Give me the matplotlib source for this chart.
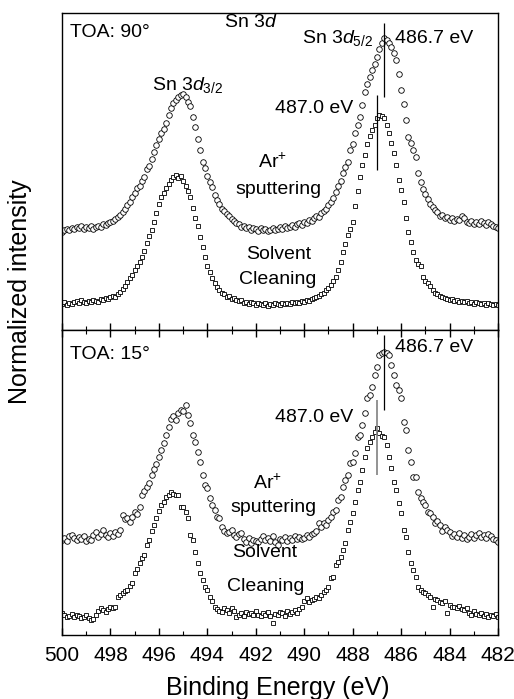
import numpy as np
import matplotlib
matplotlib.use("Agg")
import matplotlib.pyplot as plt
from matplotlib.ticker import MultipleLocator

plt.rcParams['font.family'] = 'Liberation Sans'
plt.rcParams['mathtext.fontset'] = 'custom'
plt.rcParams['mathtext.rm'] = 'Liberation Sans'
plt.rcParams['mathtext.it'] = 'Liberation Sans:italic'

# binding energy grid, 0.1 eV steps from 500 down to 482 eV
energy = np.linspace(500.0, 482.0, 181)

# TOA 90 deg, Ar+ sputtering (circles)
top_ar = [
    98, 100, 101, 100, 102, 101, 103, 102, 104, 101,
    103, 102, 104, 101, 103, 104, 103, 106, 105, 107,
    108, 109, 111, 113, 115, 118, 121, 125, 128, 133,
    137, 142, 144, 149, 153, 161, 164, 171, 178, 185,
    191, 197, 201, 207, 215, 222, 227, 230, 233, 235,
    236, 233, 228, 224, 213, 203, 191, 180, 168, 162,
    154, 148, 143, 135, 130, 126, 121, 119, 116, 114,
    111, 109, 107, 106, 103, 104, 102, 103, 100, 102,
    101, 99, 102, 100, 101, 99, 100, 102, 100, 101,
    103, 101, 104, 102, 103, 105, 103, 106, 107, 105,
    108, 107, 110, 109, 112, 114, 113, 117, 119, 121,
    125, 128, 132, 138, 144, 149, 157, 163, 168, 180,
    186, 197, 205, 213, 225, 238, 246, 253, 260, 266,
    273, 281, 287, 292, 290, 287, 283, 277, 270, 256,
    240, 226, 210, 193, 187, 180, 173, 157, 148, 141,
    136, 131, 126, 123, 120, 118, 114, 115, 112, 113,
    110, 112, 109, 111, 110, 114, 112, 108, 107, 109,
    106, 108, 106, 109, 107, 105, 108, 106, 104, 103,
    102,
]

# TOA 90 deg, solvent cleaning (squares)
top_solv = [
    26, 28, 25, 27, 26, 28, 29, 27, 30, 28,
    27, 29, 28, 30, 29, 28, 31, 30, 32, 31,
    33, 34, 33, 36, 38, 41, 44, 48, 52, 55,
    60, 64, 68, 73, 79, 87, 94, 100, 108, 117,
    126, 133, 137, 142, 146, 150, 153, 155, 152, 154,
    149, 144, 139, 133, 122, 112, 104, 93, 83, 73,
    64, 58, 52, 47, 43, 40, 37, 36, 33, 34,
    31, 32, 30, 29, 30, 27, 28, 26, 28, 27,
    25, 27, 26, 25, 27, 24, 26, 25, 27, 26,
    25, 27, 26, 27, 26, 28, 27, 28, 27, 29,
    28, 30, 29, 31, 32, 33, 34, 36, 37, 40,
    42, 45, 49, 53, 60, 68, 78, 86, 95, 101,
    108, 124, 139, 153, 165, 175, 186, 194, 200, 205,
    212, 215, 214, 212, 205, 197, 187, 177, 165, 150,
    140, 128, 112, 98, 88, 78, 70, 66, 64, 53,
    49, 47, 44, 40, 37, 36, 34, 33, 32, 31,
    30, 31, 29, 30, 28, 29, 28, 29, 27, 28,
    26, 28, 27, 26, 27, 25, 27, 26, 25, 26,
    25,
]

# TOA 15 deg, Ar+ sputtering (circles)
bot_ar = [
    95, 97, 94, 99, 100, 97, 95, 98, 96, 99,
    94, 96, 95, 100, 103, 98, 101, 105, 100, 98,
    102, 99, 103, 101, 105, 120, 116, 117, 113, 118,
    123, 121, 128, 140, 144, 148, 152, 160, 166, 171,
    178, 185, 192, 200, 208, 216, 219, 215, 222, 225,
    224, 230, 220, 212, 200, 193, 183, 173, 160, 150,
    147, 137, 130, 125, 118, 117, 108, 104, 102, 103,
    105, 100, 98, 101, 102, 96, 93, 97, 92, 95,
    94, 93, 96, 99, 95, 97, 94, 99, 93, 90,
    96, 95, 98, 94, 97, 95, 99, 96, 98, 96,
    97, 100, 98, 101, 102, 104, 112, 108, 112, 110,
    115, 118, 123, 125, 135, 138, 148, 155, 160, 172,
    173, 182, 198, 200, 210, 222, 237, 240, 248, 260,
    268, 280, 282, 283, 282, 280, 270, 260, 250, 245,
    237, 213, 205, 185, 173, 158, 158, 143, 137, 133,
    130, 123, 122, 118, 112, 114, 110, 104, 108, 105,
    103, 99, 101, 98, 102, 97, 100, 96, 98, 101,
    97, 100, 102, 98, 100, 97, 101, 99, 96, 95,
    93,
]

# TOA 15 deg, solvent cleaning (squares)
bot_solv = [
    22, 20, 18, 19, 21, 18, 20, 19, 17, 18,
    20, 17, 15, 16, 20, 24, 27, 25, 23, 26,
    28, 27, 28, 38, 40, 42, 44, 45, 49, 52,
    62, 66, 72, 77, 80, 90, 95, 104, 110, 117,
    124, 130, 133, 138, 140, 143, 141, 140, 140, 128,
    128, 123, 117, 100, 95, 83, 72, 62, 55, 48,
    45, 38, 34, 28, 26, 24, 23, 27, 25, 22,
    27, 24, 18, 20, 22, 19, 23, 21, 22, 20,
    24, 20, 19, 22, 20, 23, 19, 12, 21, 20,
    23, 22, 19, 24, 21, 23, 25, 22, 26, 28,
    34, 37, 33, 35, 36, 38, 37, 40, 43, 45,
    48, 57, 58, 70, 73, 78, 85, 92, 105, 113,
    122, 133, 145, 153, 165, 178, 187, 193, 198, 203,
    207, 202, 199, 198, 190, 178, 167, 153, 145, 132,
    122, 105, 98, 83, 72, 65, 58, 48, 45, 43,
    42, 40, 38, 28, 36, 35, 33, 32, 34, 22,
    30, 28, 28, 27, 29, 26, 25, 27, 22, 20,
    24, 21, 20, 22, 19, 21, 18, 20, 19, 21,
    18,
]

peak_lines = [486.7, 487.0]

fig = plt.figure(figsize=(5.14, 6.99), dpi=100)
ax1 = fig.add_axes([0.1206, 0.5279, 0.8484, 0.4535])
ax2 = fig.add_axes([0.1206, 0.0916, 0.8484, 0.4363])

for ax, ar, solv in [(ax1, top_ar, top_solv), (ax2, bot_ar, bot_solv)]:
    ax.plot(energy, ar, linestyle='none', marker='o', ms=4.0, mfc='white',
            mec='black', mew=0.6)
    ax.plot(energy, solv, linestyle='none', marker='s', ms=3.3, mfc='white',
            mec='black', mew=0.6)
    ax.set_xlim(500, 482)
    ax.xaxis.set_major_locator(MultipleLocator(2))
    ax.xaxis.set_minor_locator(MultipleLocator(1))
    ax.set_yticks([])
    for sp in ax.spines.values():
        sp.set_linewidth(1.0)

ax1.set_ylim(0, 317)
ax2.set_ylim(0, 305)

ax1.tick_params(axis='x', which='both', direction='in', bottom=True, top=False,
                labelbottom=False)
ax1.tick_params(axis='x', which='major', length=5, width=1)
ax1.tick_params(axis='x', which='minor', length=3, width=0.8)
ax2.tick_params(axis='x', which='both', direction='in', bottom=True, top=True,
                labelsize=15, pad=8)
ax2.tick_params(axis='x', which='major', length=5, width=1)
ax2.tick_params(axis='x', which='minor', length=3, width=0.8)

fs = 14
# top panel annotations
ax1.vlines(peak_lines[0], 233, 307, color='black', lw=0.9)
ax1.vlines(peak_lines[1], 160, 235, color='black', lw=0.9)
ax1.text(499.67, 298, 'TOA: 90°', fontsize=fs, ha='left', va='center')
ax1.text(493.3, 308, r'Sn $\mathit{3d}$', fontsize=fs, ha='left', va='center')
ax1.text(496.3, 245, r'Sn $\mathit{3d}_{\mathrm{3/2}}$', fontsize=fs, ha='left', va='center')
ax1.text(490.1, 292, r'Sn $\mathit{3d}_{\mathrm{5/2}}$', fontsize=fs, ha='left', va='center')
ax1.text(486.24, 292, '486.7 eV', fontsize=fs, ha='left', va='center')
ax1.text(491.2, 222, '487.0 eV', fontsize=fs, ha='left', va='center')
ax1.text(491.32, 168, r'Ar$^{+}$', fontsize=fs, ha='center', va='center')
ax1.text(491.05, 140, 'sputtering', fontsize=fs, ha='center', va='center')
ax1.text(491.05, 75, 'Solvent', fontsize=fs, ha='center', va='center')
ax1.text(491.1, 50, 'Cleaning', fontsize=fs, ha='center', va='center')

# bottom panel annotations
ax2.vlines(peak_lines[0], 225, 300, color='black', lw=0.9)
ax2.vlines(peak_lines[1], 160, 235, color='gray', lw=1.2)
ax2.text(499.67, 280, 'TOA: 15°', fontsize=fs, ha='left', va='center')
ax2.text(486.24, 287, '486.7 eV', fontsize=fs, ha='left', va='center')
ax2.text(491.2, 217, '487.0 eV', fontsize=fs, ha='left', va='center')
ax2.text(491.5, 152, r'Ar$^{+}$', fontsize=fs, ha='center', va='center')
ax2.text(491.26, 127, 'sputtering', fontsize=fs, ha='center', va='center')
ax2.text(491.63, 82, 'Solvent', fontsize=fs, ha='center', va='center')
ax2.text(491.6, 48, 'Cleaning', fontsize=fs, ha='center', va='center')

fig.text(20 / 514, 1 - 292 / 699, 'Normalized intensity', rotation=90,
         fontsize=18, ha='center', va='center')
fig.text(278 / 514, 1 - 688 / 699, 'Binding Energy (eV)', fontsize=18,
         ha='center', va='center')

fig.savefig('out.png', dpi=100)
